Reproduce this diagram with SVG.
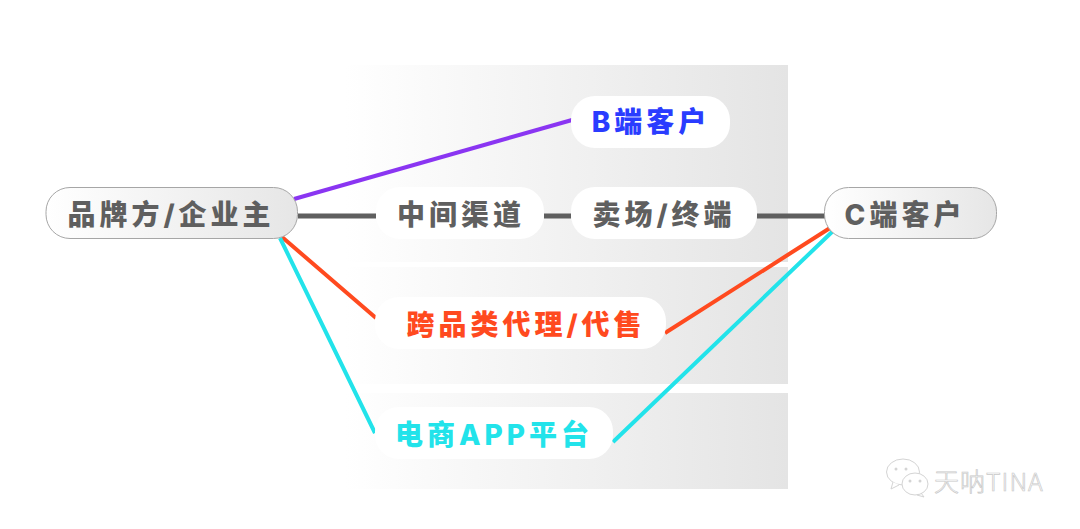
<svg xmlns="http://www.w3.org/2000/svg" width="1080" height="529" viewBox="0 0 1080 529">
<style>
.t{font-family:"Inter","Noto Sans CJK SC",sans-serif;font-weight:800;font-size:28px;letter-spacing:4px;text-anchor:middle}
.g{fill:#5f5f5f}
.w{fill:#fff}
.b{fill:url(#n);stroke:#a6a6a6;stroke-width:1}
.c{fill:none;stroke-width:4}
.wm{fill:#fff;stroke:#d4d4d4;stroke-width:1}
</style>
<defs>
<linearGradient id="bg" x1="0" x2="1" y1="0" y2="0"><stop offset="0" stop-color="#fff"/><stop offset="1" stop-color="#e4e4e4"/></linearGradient>
<linearGradient id="n" x1="0" x2="1" y1="0" y2="0"><stop offset="0" stop-color="#fff"/><stop offset="1" stop-color="#e6e6e6"/></linearGradient>
</defs>
<rect width="1080" height="529" fill="#fff"/>
<g id="bands">
<rect x="345" y="65" width="443" height="197" fill="url(#bg)"/>
<rect x="345" y="267" width="443" height="117" fill="url(#bg)"/>
<rect x="345" y="393" width="443" height="96" fill="url(#bg)"/>
</g>
<g id="connectors">
<path class="c" stroke="#8a35f2" d="M294 199L572 120"/>
<path class="c" stroke="#5f5f5f" style="stroke-width:5" d="M298 216H376M544 216H571M757 216H825"/>
<path class="c" stroke="#ff4a1f" d="M282 237L376 318M665 333L830 228"/>
<path class="c" stroke="#22e3ea" d="M280 238L375 433M613 442L833 231"/>
</g>
<g id="n1"><rect class="b" x="46" y="187.500" width="251.500" height="51" rx="24"/><text class="t g" x="171" y="225">品牌方/企业主</text></g>
<g id="n2"><rect class="w" x="571" y="96" width="159" height="52" rx="24"/><text class="t" fill="#2a3cff" x="651" y="132">B端客户</text></g>
<g id="n3"><rect class="w" x="376" y="187" width="168" height="52" rx="24"/><text class="t g" x="461" y="225">中间渠道</text></g>
<g id="n4"><rect class="w" x="571" y="187" width="186" height="52" rx="24"/><text class="t g" x="664" y="225">卖场/终端</text></g>
<g id="n5"><rect class="b" x="824.500" y="187.500" width="172" height="51" rx="24"/><text class="t g" x="905" y="225">C端客户</text></g>
<g id="n6"><rect class="w" x="375" y="297" width="291" height="52" rx="24"/><text class="t" fill="#ff4a1f" x="526" y="335">跨品类代理/代售</text></g>
<g id="n7"><rect class="w" x="375" y="407" width="238" height="52" rx="24"/><text class="t" fill="#22e3ea" x="494" y="445">电商APP平台</text></g>
<g id="watermark">
<ellipse class="wm" cx="903" cy="472" rx="16.500" ry="13"/>
<path class="wm" d="M893 482l-2 7 8-4"/>
<ellipse class="wm" cx="915" cy="484" rx="13" ry="11"/>
<path fill="none" stroke="#d4d4d4" d="M921 493l3 4-7-2"/>
<circle cx="896" cy="469" r="1.500" fill="#d4d4d4"/><circle cx="906" cy="469" r="1.500" fill="#d4d4d4"/>
<circle cx="910" cy="481" r="1.500" fill="#d4d4d4"/><circle cx="920" cy="481" r="1.500" fill="#d4d4d4"/>
<text x="934" y="491" font-family="'Noto Sans CJK SC','Noto Sans',sans-serif" font-size="25" font-weight="300" letter-spacing="1" fill="#fff" stroke="#c8c8c8" stroke-width=".7">天呐TINA</text>
</g>
</svg>
